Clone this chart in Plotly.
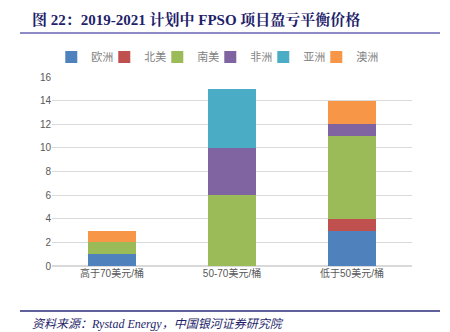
import plotly.graph_objects as go

categories = ["高于70美元/桶", "50-70美元/桶", "低于50美元/桶"]
series_names = ["欧洲", "北美", "南美", "非洲", "亚洲", "澳洲"]
europe = [1, 0, 3]
north_america = [0, 0, 1]
south_america = [1, 6, 7]
africa = [0, 4, 1]
asia = [0, 5, 0]
australia = [1, 0, 2]
y_ticks = [0, 2, 4, 6, 8, 10, 12, 14, 16]

colors = ["#4F81BD", "#C0504D", "#9BBB59", "#8064A2", "#4BACC6", "#F79646"]
values = [europe, north_america, south_america, africa, asia, australia]

fig = go.Figure()
for name, vals, c in zip(series_names, values, colors):
    fig.add_trace(go.Bar(x=categories, y=vals, name=name, marker=dict(color=c, line=dict(width=0))))
# spacer legend entry so the last label is not clipped
fig.add_trace(go.Scatter(x=[None], y=[None], mode="markers", name="   ",
                         marker=dict(color="rgba(0,0,0,0)", size=1, line=dict(width=0)),
                         hoverinfo="skip"))

fig.update_layout(
    barmode="stack",
    bargap=0.6,
    width=450, height=332,
    margin=dict(l=52, r=38, t=77, b=66, autoexpand=False),
    paper_bgcolor="white", plot_bgcolor="white",
    font=dict(family="Liberation Sans, Noto Sans CJK SC", size=10, color="#595959"),
    showlegend=True,
    legend=dict(orientation="h", x=-0.002, xanchor="left",
                y=1 + (77 - 57) / 189, yanchor="middle", traceorder="normal",
                font=dict(size=11, color="#7f7f7f"), entrywidth=8, entrywidthmode="pixels",
                itemwidth=30, bgcolor="rgba(0,0,0,0)"),
    xaxis=dict(showgrid=False, showline=False, ticks="", tickfont=dict(size=10, color="#595959")),
    yaxis=dict(range=[0, 16], tickvals=y_ticks, showgrid=True, gridcolor="#d9d9d9", gridwidth=1,
               zeroline=True, zerolinecolor="#d9d9d9", showline=False, ticks="",
               tickfont=dict(size=10, color="#595959")),
)

fig.add_annotation(text="<b>图 22：2019-2021 计划中 FPSO 项目盈亏平衡价格</b>",
                   xref="paper", yref="paper", x=(30 - 52) / 360, y=1 + (77 - 20) / 189,
                   xanchor="left", yanchor="middle", showarrow=False,
                   font=dict(family="Liberation Serif, Noto Serif CJK SC, Noto Sans CJK SC", size=15, color="#1F1F6B"))
fig.add_annotation(text="<i>资料来源：Rystad Energy，中国银河证券研究院</i>",
                   xref="paper", yref="paper", x=(30 - 52) / 360, y=-(324 - 266) / 189,
                   xanchor="left", yanchor="middle", showarrow=False,
                   font=dict(family="Liberation Serif, Noto Sans CJK SC", size=12, color="#1F1F6B"))
fig.add_shape(type="line", xref="paper", yref="paper",
              x0=(20 - 52) / 360, x1=(440 - 52) / 360, y0=1 + (77 - 33) / 189, y1=1 + (77 - 33) / 189,
              line=dict(color="#8E8AC6", width=2))
fig.add_shape(type="line", xref="paper", yref="paper",
              x0=(20 - 52) / 360, x1=(440 - 52) / 360, y0=-(311 - 266) / 189, y1=-(311 - 266) / 189,
              line=dict(color="#2B2B7A", width=1.5))

fig.write_html("out.html")
